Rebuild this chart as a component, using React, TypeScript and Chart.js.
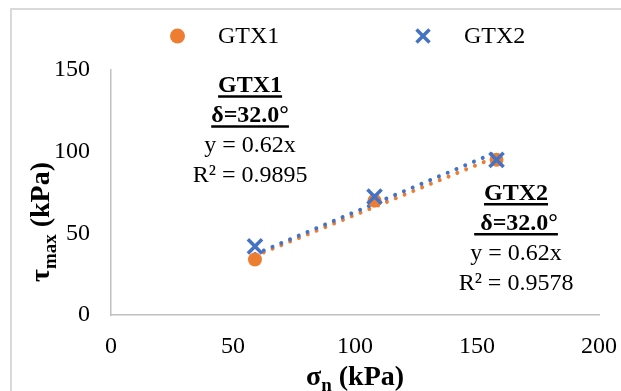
import React, { useEffect, useRef } from 'react';
import { Chart, registerables } from 'chart.js';

Chart.register(...registerables);

// ---- data ----
const seriesNames = ['GTX1', 'GTX2'];
const normalStress = [59, 108, 158];
const gtx1Shear = [34, 70, 95];
const gtx2Shear = [42, 72.5, 95];
const xTickValues = [0, 50, 100, 150, 200];
const yTickValues = [0, 50, 100, 150];
const gtx1Notes = ['GTX1', 'δ=32.0°', 'y = 0.62x', 'R² = 0.9895'];
const gtx2Notes = ['GTX2', ' δ=32.0°', 'y = 0.62x', 'R² = 0.9578'];
const xTitle = ['σ', 'n', ' (kPa)'];
const yTitle = ['τ', 'max', ' (kPa)'];

const ORANGE = '#ED7D31';
const BLUE = '#4472C4';
const FONT = "'Liberation Serif', 'Times New Roman', serif";

function originSlope(xs: number[], ys: number[]) {
  let sxy = 0;
  let sxx = 0;
  xs.forEach((x, i) => {
    sxy += x * ys[i];
    sxx += x * x;
  });
  return sxy / sxx;
}

function trend(xs: number[], ys: number[]) {
  const b = originSlope(xs, ys);
  const x0 = Math.min(...xs);
  const x1 = Math.max(...xs);
  return [
    { x: x0, y: b * x0 },
    { x: x1, y: b * x1 },
  ];
}

function drawTitleParts(ctx: CanvasRenderingContext2D, parts: string[], big: number, small: number, drop: number) {
  ctx.font = `bold ${big}px ${FONT}`;
  const w0 = ctx.measureText(parts[0]).width;
  ctx.font = `bold ${small}px ${FONT}`;
  const w1 = ctx.measureText(parts[1]).width;
  ctx.font = `bold ${big}px ${FONT}`;
  const w2 = ctx.measureText(parts[2]).width;
  const total = w0 + w1 + w2;
  let x = -total / 2;
  ctx.textBaseline = 'alphabetic';
  ctx.textAlign = 'left';
  ctx.fillStyle = '#000';
  ctx.font = `bold ${big}px ${FONT}`;
  ctx.fillText(parts[0], x, 0);
  x += w0;
  ctx.font = `bold ${small}px ${FONT}`;
  ctx.fillText(parts[1], x, drop);
  x += w1;
  ctx.font = `bold ${big}px ${FONT}`;
  ctx.fillText(parts[2], x, 0);
}

function drawNotes(ctx: CanvasRenderingContext2D, lines: string[], cx: number, cy: number) {
  const lh = 30;
  ctx.textAlign = 'center';
  ctx.textBaseline = 'middle';
  ctx.fillStyle = '#000';
  ctx.strokeStyle = '#000';
  lines.forEach((t, i) => {
    const y = cy + i * lh;
    const bold = i < 2;
    ctx.font = `${bold ? 'bold ' : ''}24px ${FONT}`;
    ctx.fillText(t, cx, y);
    if (bold) {
      const w = ctx.measureText(t).width;
      ctx.lineWidth = 2.5;
      ctx.beginPath();
      ctx.moveTo(cx - w / 2, y + 11);
      ctx.lineTo(cx + w / 2, y + 11);
      ctx.stroke();
    }
  });
}

const overlayPlugin = {
  id: 'overlay',
  afterDraw(chart: any) {
    const ctx: CanvasRenderingContext2D = chart.ctx;
    const xs = chart.scales.x;
    const ys = chart.scales.y;
    const area = chart.chartArea;
    ctx.save();

    // legend
    const ly = 36;
    ctx.fillStyle = ORANGE;
    ctx.beginPath();
    ctx.arc(177.5, ly, 7.5, 0, Math.PI * 2);
    ctx.fill();
    ctx.strokeStyle = BLUE;
    ctx.lineWidth = 3.5;
    ctx.beginPath();
    ctx.moveTo(423 - 6.5, ly - 6.5);
    ctx.lineTo(423 + 6.5, ly + 6.5);
    ctx.moveTo(423 + 6.5, ly - 6.5);
    ctx.lineTo(423 - 6.5, ly + 6.5);
    ctx.stroke();
    ctx.fillStyle = '#000';
    ctx.font = `24px ${FONT}`;
    ctx.textAlign = 'left';
    ctx.textBaseline = 'middle';
    ctx.fillText(seriesNames[0], 218, ly + 1);
    ctx.fillText(seriesNames[1], 464, ly + 1);

    // annotations
    drawNotes(ctx, gtx1Notes, xs.getPixelForValue(57), ys.getPixelForValue(140.5));
    drawNotes(ctx, gtx2Notes, xs.getPixelForValue(166), ys.getPixelForValue(74.5));

    // x title
    ctx.save();
    ctx.translate((area.left + area.right) / 2, 385);
    drawTitleParts(ctx, xTitle, 28, 19, 6);
    ctx.restore();

    // y title
    ctx.save();
    ctx.translate(49, 222);
    ctx.rotate(-Math.PI / 2);
    drawTitleParts(ctx, yTitle, 28, 19, 7);
    ctx.restore();

    ctx.restore();
  },
};

export default function App() {
  const ref = useRef<HTMLCanvasElement | null>(null);

  useEffect(() => {
    if (!ref.current) return;
    const chart = new Chart(ref.current, {
      type: 'scatter',
      data: {
        datasets: [
          {
            label: seriesNames[1],
            data: normalStress.map((x, i) => ({ x, y: gtx2Shear[i] })),
            pointStyle: 'crossRot',
            pointRadius: 10,
            pointBorderWidth: 3.5,
            borderColor: BLUE,
            backgroundColor: BLUE,
            order: 0,
          },
          {
            label: seriesNames[0],
            data: normalStress.map((x, i) => ({ x, y: gtx1Shear[i] })),
            pointStyle: 'circle',
            pointRadius: 7,
            pointBorderWidth: 0,
            borderColor: ORANGE,
            backgroundColor: ORANGE,
            order: 1,
          },
          {
            label: 'trend2',
            data: trend(normalStress, gtx2Shear),
            showLine: true,
            pointRadius: 0,
            borderColor: BLUE,
            borderWidth: 4,
            borderDash: [0.01, 9.5],
            borderCapStyle: 'round',
            order: 2,
          } as any,
          {
            label: 'trend1',
            data: trend(normalStress, gtx1Shear),
            showLine: true,
            pointRadius: 0,
            borderColor: ORANGE,
            borderWidth: 4,
            borderDash: [0.01, 9.5],
            borderCapStyle: 'round',
            order: 3,
          } as any,
        ],
      },
      options: {
        responsive: false,
        animation: false,
        devicePixelRatio: 1,
        layout: { padding: { top: 70, right: 22, left: 0, bottom: 0 } },
        plugins: {
          legend: { display: false },
          tooltip: { enabled: false },
        },
        scales: {
          x: {
            type: 'linear',
            min: xTickValues[0],
            max: xTickValues[xTickValues.length - 1],
            afterBuildTicks: (s: any) => {
              s.ticks = xTickValues.map((v) => ({ value: v }));
            },
            afterFit: (s: any) => {
              s.height = 76;
              s.paddingLeft = 0;
              s.paddingRight = 0;
            },
            grid: { display: false, drawTicks: false },
            border: { display: true, color: '#c0c0c0', width: 1.5 },
            ticks: {
              color: '#000',
              padding: 17,
              font: { family: FONT, size: 24 },
              maxRotation: 0,
            },
          },
          y: {
            type: 'linear',
            min: yTickValues[0],
            max: yTickValues[yTickValues.length - 1],
            afterBuildTicks: (s: any) => {
              s.ticks = yTickValues.map((v) => ({ value: v }));
            },
            afterFit: (s: any) => {
              s.width = 111;
              s.paddingTop = 0;
              s.paddingBottom = 0;
            },
            grid: { display: false, drawTicks: false },
            border: { display: true, color: '#c0c0c0', width: 1.5 },
            ticks: {
              color: '#000',
              padding: 21,
              font: { family: FONT, size: 24 },
            },
          },
        },
      },
      plugins: [overlayPlugin],
    });
    return () => chart.destroy();
  }, []);

  return (
    <div
      style={{
        position: 'fixed',
        left: 0,
        top: 0,
        width: 621,
        height: 391,
        overflow: 'hidden',
        background: '#fff',
      }}
    >
      <div
        style={{
          position: 'absolute',
          left: 10,
          top: 8,
          width: 700,
          height: 500,
          border: '2px solid #d9d9d9',
          boxSizing: 'border-box',
        }}
      />
      <canvas
        ref={ref}
        width={621}
        height={391}
        style={{ position: 'absolute', left: 0, top: 0, width: 621, height: 391 }}
      />
    </div>
  );
}
